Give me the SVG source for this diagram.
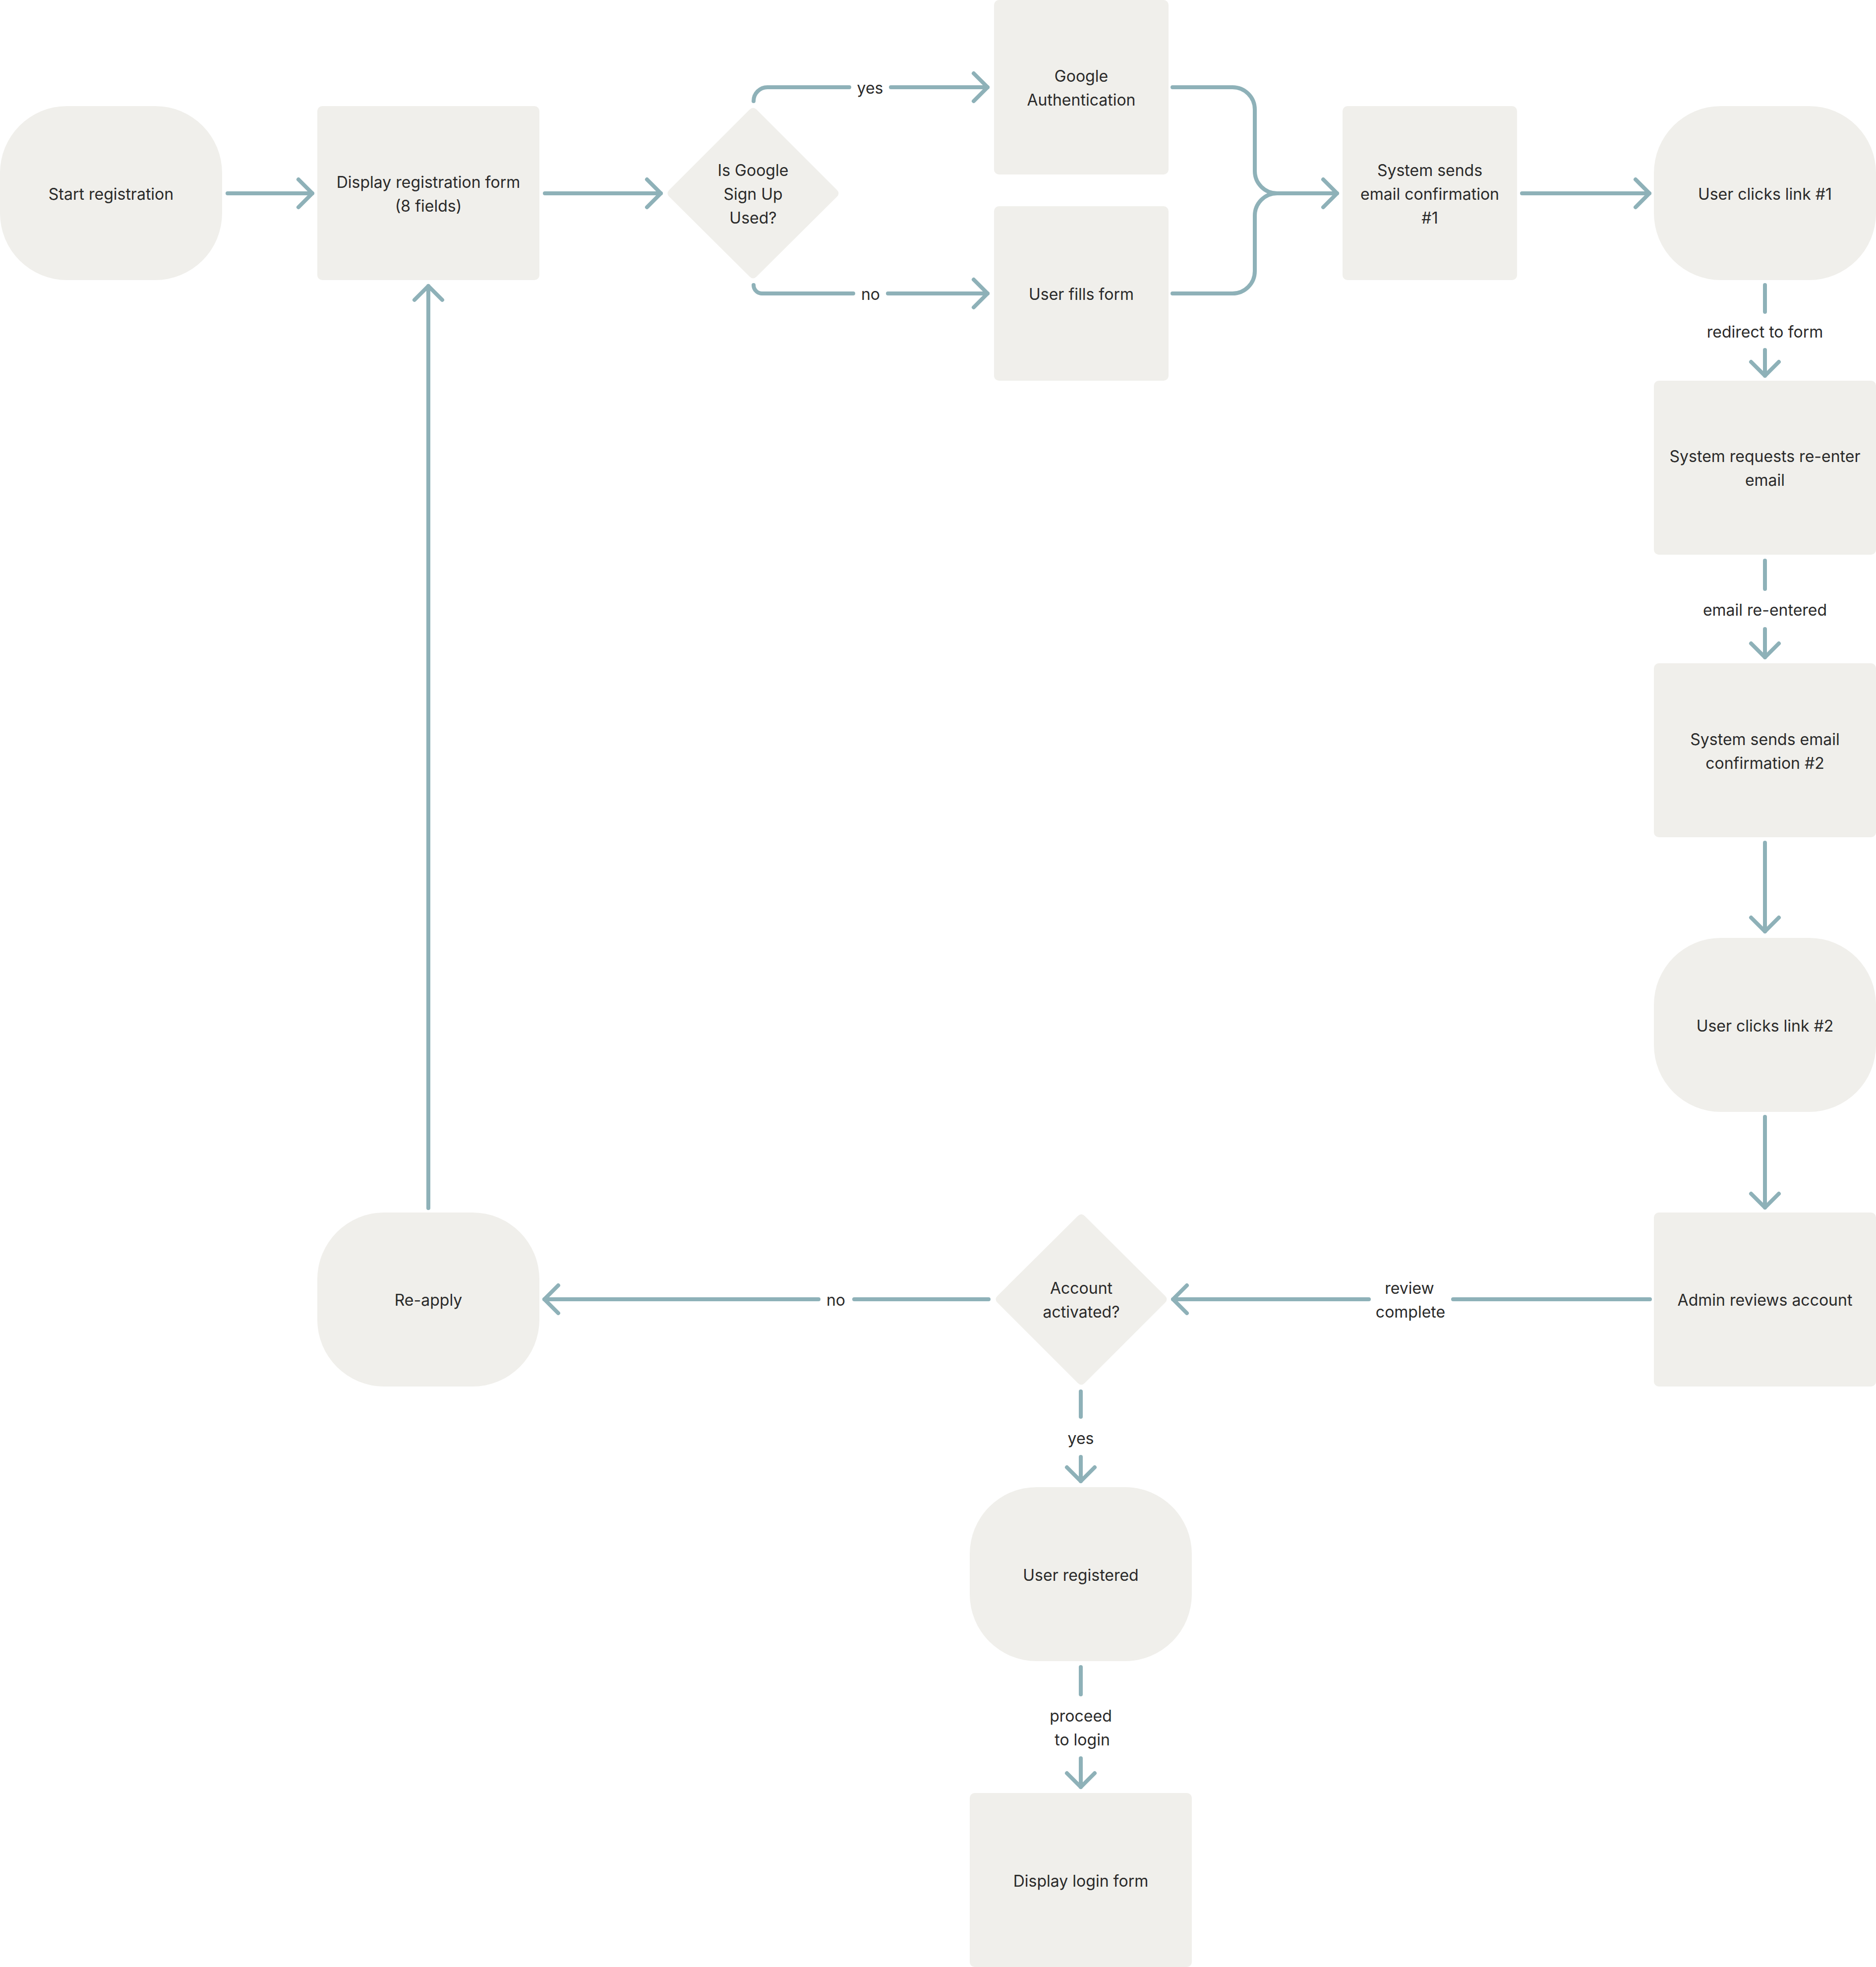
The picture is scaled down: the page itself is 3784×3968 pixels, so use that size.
<svg xmlns="http://www.w3.org/2000/svg" width="3784" height="3968" viewBox="0 0 3784 3968">
<style>
.n{fill:#F0EFEB}
.t{font-family:Inter,"Noto Sans","Liberation Sans",sans-serif;font-size:32px;fill:#2A2A2A;text-anchor:middle}
.c{fill:none;stroke:#8EB1B8;stroke-width:8;stroke-linecap:round;stroke-linejoin:round}
</style>
<defs>
<marker id="ah" markerUnits="userSpaceOnUse" viewBox="-40 -40 50 80" refX="0" refY="0" markerWidth="50" markerHeight="80" orient="auto" overflow="visible">
<path d="M-28,-28 L0,0 L-28,28" fill="none" stroke="#8EB1B8" stroke-width="8" stroke-linecap="round" stroke-linejoin="round"/>
</marker>
</defs>
<rect width="3784" height="3968" fill="#FFFFFF"/>

<g id="connectors">
<path class="c" d="M459 390 H630" marker-end="url(#ah)"/>
<path class="c" d="M1099 390 H1333" marker-end="url(#ah)"/>
<path class="c" d="M1520 204 A28 28 0 0 1 1548 176 H1713"/>
<path class="c" d="M1797 176 H1992" marker-end="url(#ah)"/>
<path class="c" d="M1520 575 A17 17 0 0 0 1537 592 H1721"/>
<path class="c" d="M1791 592 H1992" marker-end="url(#ah)"/>
<path class="c" d="M2365 176 H2486 A45 45 0 0 1 2531 221 V345 A45 45 0 0 0 2576 390 H2697" marker-end="url(#ah)"/>
<path class="c" d="M2365 592 H2486 A45 45 0 0 0 2531 547 V435 A45 45 0 0 1 2576 390"/>
<path class="c" d="M3070 390 H3327" marker-end="url(#ah)"/>
<path class="c" d="M3560 575 V629"/>
<path class="c" d="M3560 706 V758" marker-end="url(#ah)"/>
<path class="c" d="M3560 1131 V1188"/>
<path class="c" d="M3560 1269 V1326" marker-end="url(#ah)"/>
<path class="c" d="M3560 1700 V1879" marker-end="url(#ah)"/>
<path class="c" d="M3560 2253 V2436" marker-end="url(#ah)"/>
<path class="c" d="M3328 2621 H2931"/>
<path class="c" d="M2761 2621 H2366" marker-end="url(#ah)"/>
<path class="c" d="M1994 2621 H1723"/>
<path class="c" d="M1651 2621 H1098" marker-end="url(#ah)"/>
<path class="c" d="M864 2437 V577" marker-end="url(#ah)"/>
<path class="c" d="M2180 2807 V2858"/>
<path class="c" d="M2180 2939 V2988" marker-end="url(#ah)"/>
<path class="c" d="M2180 3363 V3418"/>
<path class="c" d="M2180 3547 V3605" marker-end="url(#ah)"/>
<text class="t" x="1755" y="189">yes</text>
<text class="t" x="1756" y="605">no</text>
<text class="t" x="3560" y="681">redirect to form</text>
<text class="t" x="3560" y="1242">email re-entered</text>
<text class="t" x="2843" y="2610">review</text>
<text class="t" x="2845" y="2658">complete</text>
<text class="t" x="1686" y="2634">no</text>
<text class="t" x="2180" y="2913">yes</text>
<text class="t" x="2180" y="3473">proceed</text>
<text class="t" x="2183" y="3521">to login</text>
</g>

<g id="start-registration">
<rect class="n" x="0" y="214" width="448" height="351" rx="135" ry="135"/>
<text class="t" x="224" y="403">Start registration</text>
</g>
<g id="display-registration-form">
<rect class="n" x="640" y="214" width="448" height="351" rx="10"/>
<text class="t" x="864" y="379">Display registration form</text>
<text class="t" x="864" y="427">(8 fields)</text>
</g>
<g id="google-decision">
<path class="n" d="M1512 221 Q1519 214 1526 221 L1688 383 Q1695 390 1688 397 L1526 558 Q1519 565 1512 558 L1350 397 Q1343 390 1350 383 Z"/>
<text class="t" x="1519" y="355">Is Google</text>
<text class="t" x="1519" y="403">Sign Up</text>
<text class="t" x="1519" y="451">Used?</text>
</g>
<g id="google-authentication">
<rect class="n" x="2005" y="0" width="352" height="352" rx="10"/>
<text class="t" x="2181" y="165">Google</text>
<text class="t" x="2181" y="213">Authentication</text>
</g>
<g id="user-fills-form">
<rect class="n" x="2005" y="416" width="352" height="352" rx="10"/>
<text class="t" x="2181" y="605">User fills form</text>
</g>
<g id="system-sends-1">
<rect class="n" x="2708" y="214" width="352" height="351" rx="10"/>
<text class="t" x="2884" y="355">System sends</text>
<text class="t" x="2884" y="403">email confirmation</text>
<text class="t" x="2884" y="451">#1</text>
</g>
<g id="user-clicks-1">
<rect class="n" x="3336" y="214" width="448" height="351" rx="135" ry="135"/>
<text class="t" x="3560" y="403">User clicks link #1</text>
</g>
<g id="system-requests">
<rect class="n" x="3336" y="768" width="448" height="351" rx="10"/>
<text class="t" x="3560" y="932">System requests re-enter</text>
<text class="t" x="3560" y="980">email</text>
</g>
<g id="system-sends-2">
<rect class="n" x="3336" y="1338" width="448" height="351" rx="10"/>
<text class="t" x="3560" y="1503">System sends email</text>
<text class="t" x="3560" y="1551">confirmation #2</text>
</g>
<g id="user-clicks-2">
<rect class="n" x="3336" y="1892" width="448" height="351" rx="135" ry="135"/>
<text class="t" x="3560" y="2081">User clicks link #2</text>
</g>
<g id="admin-reviews">
<rect class="n" x="3336" y="2446" width="448" height="351" rx="10"/>
<text class="t" x="3560" y="2634">Admin reviews account</text>
</g>
<g id="account-decision">
<path class="n" d="M2174 2453 Q2181 2446 2188 2453 L2350 2614 Q2357 2621 2350 2628 L2188 2790 Q2181 2797 2174 2790 L2012 2628 Q2005 2621 2012 2614 Z"/>
<text class="t" x="2181" y="2610">Account</text>
<text class="t" x="2181" y="2658">activated?</text>
</g>
<g id="re-apply">
<rect class="n" x="640" y="2446" width="448" height="351" rx="135" ry="135"/>
<text class="t" x="864" y="2634">Re-apply</text>
</g>
<g id="user-registered">
<rect class="n" x="1956" y="3000" width="448" height="351" rx="135" ry="135"/>
<text class="t" x="2180" y="3189">User registered</text>
</g>
<g id="display-login-form">
<rect class="n" x="1956" y="3617" width="448" height="351" rx="10"/>
<text class="t" x="2180" y="3806">Display login form</text>
</g>
</svg>
